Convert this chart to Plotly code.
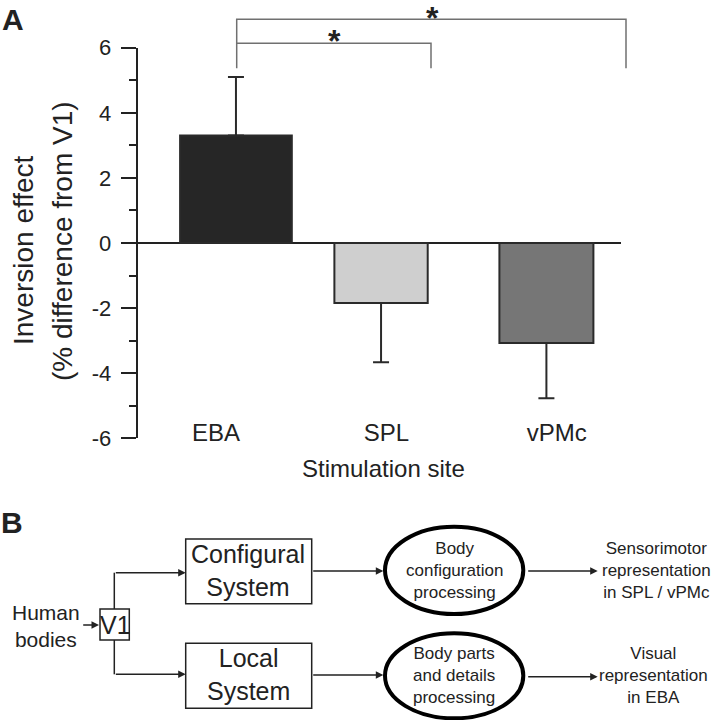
import plotly.graph_objects as go

# panel A data
sites = ["EBA", "SPL", "vPMc"]
effect = [3.30, -1.84, -3.07]      # inversion effect, % difference from V1
sem = [1.80, 1.82, 1.70]           # one-sided error bars
bar_colors = ["#262626", "#cfcfcf", "#767676"]
y_ticks = [-6, -4, -2, 0, 2, 4, 6]

W, H = 717, 720
INK = "#222222"
FONT = "Liberation Sans, Arial, sans-serif"


def px_x(p):
    return p / W


def px_y(p):
    return 1 - p / H


err_up = [e if v > 0 else 0 for v, e in zip(effect, sem)]
err_down = [e if v < 0 else 0 for v, e in zip(effect, sem)]

fig = go.Figure()
fig.add_trace(go.Bar(
    x=list(range(len(sites))), y=effect,
    width=[0.656, 0.548, 0.552], offset=[-0.211, -0.305, -0.336],
    marker=dict(color=bar_colors, line=dict(color="#2a2a2a", width=2)),
    error_y=dict(type="data", symmetric=False, array=err_up, arrayminus=err_down,
                 color="#2a2a2a", thickness=2, width=8),
    showlegend=False, hoverinfo="skip",
))
# overlay in pixel space, used for panel B and annotations
fig.add_trace(go.Scatter(x=[], y=[], xaxis="x2", yaxis="y2", showlegend=False, hoverinfo="skip"))

fig.update_layout(
    width=W, height=H, autosize=False,
    margin=dict(l=0, r=0, t=0, b=0),
    template="none",
    paper_bgcolor="white", plot_bgcolor="rgba(0,0,0,0)",
    font=dict(family=FONT, color=INK),
    xaxis=dict(domain=[px_x(137.7), px_x(621)], range=[-0.46, 2.378],
               tickvals=list(range(len(sites))), ticktext=sites,
               anchor="free", position=px_y(416),
               showline=False, showgrid=False, zeroline=False, ticks="",
               tickfont=dict(size=24, color=INK), automargin=False),
    yaxis=dict(domain=[px_y(438.3), px_y(47.7)], range=[-6, 6],
               tickmode="array", tickvals=y_ticks, ticktext=[str(t) for t in y_ticks],
               ticks="outside", ticklen=15, tickwidth=2, tickcolor=INK,
               showline=True, linewidth=2, linecolor=INK,
               zeroline=True, zerolinewidth=2, zerolinecolor=INK,
               showgrid=False, tickfont=dict(size=22, color=INK),
               ticklabelstandoff=5, automargin=False,
               minor=dict(ticks="outside", ticklen=7, tickwidth=2, tickcolor=INK,
                          tickmode="linear", tick0=1, dtick=2, showgrid=False)),
    xaxis2=dict(domain=[0, 1], range=[0, W], visible=False, anchor="y2"),
    yaxis2=dict(domain=[0, 1], range=[H, 0], visible=False, anchor="x2"),
)

shapes = []
ann = []


def text(x, y, s, size, **kw):
    ann.append(dict(x=x, y=y, xref="x2", yref="y2", text=s, showarrow=False,
                    xanchor="center", yanchor="middle",
                    font=dict(size=size, color=INK, family=FONT), **kw))


def arrow(x0, y0, x1, y1):
    ann.append(dict(x=x1, y=y1, ax=x0, ay=y0, xref="x2", yref="y2", axref="x2", ayref="y2",
                    text="", showarrow=True, arrowhead=2, arrowsize=1, arrowwidth=1.5,
                    arrowcolor=INK, standoff=0, startstandoff=0))


def line_path(path, color=INK, width=1.5):
    shapes.append(dict(type="path", path=path, xref="x2", yref="y2",
                       line=dict(color=color, width=width)))


# panel labels and axis titles
text(13, 19, "<b>A</b>", 30)
text(12, 522, "<b>B</b>", 30)
text(23, 250, "Inversion effect", 28, textangle=-90)
text(62, 241, "(% difference from V1)", 28, textangle=-90)
text(383, 468, "Stimulation site", 24)

# significance brackets
line_path("M236.7,68.3 V19.3 H626 V68.3", color="#707070")
line_path("M236.7,43.3 H431 V68.3", color="#707070")
text(432, 18, "<b>*</b>", 32)
text(334, 41, "<b>*</b>", 32)

# panel B diagram
for x0, y0, x1, y1 in [(185.7, 539, 311.7, 603.7), (185.7, 643.3, 311.7, 708.3), (100, 609, 129.3, 640)]:
    shapes.append(dict(type="rect", x0=x0, y0=y0, x1=x1, y1=y1, xref="x2", yref="y2",
                       line=dict(color=INK, width=1.5)))
for y0, y1 in [(526.7, 614), (633.3, 718.3)]:
    shapes.append(dict(type="circle", x0=385, x1=523.3, y0=y0, y1=y1, xref="x2", yref="y2",
                       line=dict(color="black", width=4)))

line_path("M114.3,609 V572.7")
line_path("M114.3,640 V674.3")
arrow(114.3, 572.7, 185.7, 572.7)
arrow(114.3, 674.3, 185.7, 674.3)
arrow(81.7, 625, 99, 625)
arrow(311.7, 571, 383.3, 571)
arrow(311.7, 675, 383.3, 675)
arrow(526.7, 571, 597.7, 571)
arrow(526.7, 676.7, 597.7, 676.7)

text(46, 626, "Human<br>bodies", 21)
text(115, 624.5, "V1", 25)
text(248, 570.5, "Configural<br>System", 25)
text(248, 674, "Local<br>System", 25)
text(454, 570.5, "Body<br>configuration<br>processing", 17)
text(454, 675, "Body parts<br>and details<br>processing", 17)
text(656, 570.5, "Sensorimotor<br>representation<br>in SPL / vPMc", 17)
text(653, 675.5, "Visual<br>representation<br>in EBA", 17)

fig.update_layout(shapes=shapes, annotations=ann)
# drop the default 8px body margin so the figure fills the window exactly
fig.write_html("out.html", config={"displayModeBar": False},
               post_script="document.body.style.margin = '0';")
